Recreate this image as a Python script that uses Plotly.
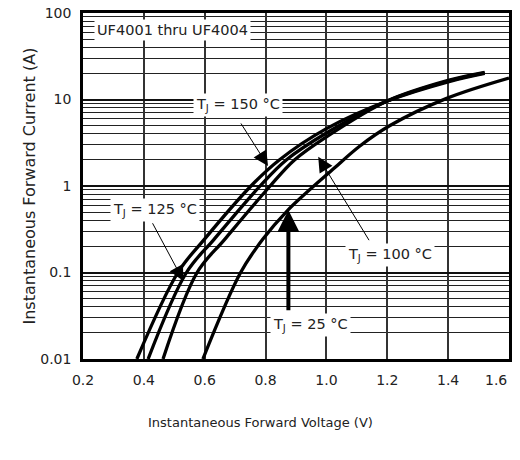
import math
import plotly.graph_objects as go

# Forward characteristics
v_150 = [0.377, 0.512, 0.598, 0.752, 0.845, 1.000, 1.200, 1.400, 1.520]
i_150 = [0.01, 0.1, 0.24, 1.0, 2.0, 4.6, 9.6, 16.0, 20.0]

v_125 = [0.414, 0.540, 0.630, 0.782, 0.868, 1.000, 1.200, 1.400, 1.520]
i_125 = [0.01, 0.1, 0.24, 1.0, 2.0, 4.1, 9.6, 16.3, 20.3]

v_100 = [0.463, 0.575, 0.665, 0.815, 0.895, 1.000, 1.200, 1.400, 1.520]
i_100 = [0.01, 0.1, 0.24, 1.0, 2.0, 3.7, 9.6, 16.6, 20.6]

v_25 = [0.594, 0.718, 0.790, 0.872, 1.025, 1.110, 1.209, 1.395, 1.600]
i_25 = [0.01, 0.1, 0.24, 0.52, 1.6, 2.9, 5.0, 10.3, 17.7]

x_ticks = [0.2, 0.4, 0.6, 0.8, 1.0, 1.2, 1.4, 1.6]
x_tick_text = ["0.2", "0.4", "0.6", "0.8", "1.0", "1.2", "1.4", ""]
last_x_label = "1.6"
y_ticks = [0.01, 0.1, 1, 10, 100]
y_tick_text = ["0.01", "0.1", "1", "10", "100"]
y_minor = [m * d for d in (0.01, 0.1, 1, 10) for m in range(2, 10)]

FONT = "DejaVu Sans"
fig = go.Figure()
for v, i in [(v_150, i_150), (v_125, i_125), (v_100, i_100), (v_25, i_25)]:
    fig.add_trace(go.Scatter(x=v, y=i, mode="lines",
                             line=dict(color="black", width=3.3, shape="spline", smoothing=1.0),
                             showlegend=False, hoverinfo="skip"))

fig.update_layout(
    width=520, height=444,
    margin=dict(l=75, r=19, t=5, b=93),
    paper_bgcolor="white", plot_bgcolor="white",
    font=dict(family=FONT, size=14, color="#222"),
    xaxis=dict(range=[0.2, 1.6], tickvals=x_ticks, ticktext=x_tick_text,
               showgrid=True, gridcolor="#333", gridwidth=1.5,
               showline=True, linecolor="black", linewidth=2.5, mirror=True,
               ticks="", zeroline=False, automargin=False, ticklabeloverflow="allow",
               ticklabelstandoff=6),
    yaxis=dict(type="log", range=[-2, 2], tickvals=y_ticks, ticktext=y_tick_text,
               showgrid=True, gridcolor="#111", gridwidth=2,
               minor=dict(showgrid=True, tickvals=y_minor, gridcolor="#222", gridwidth=1, ticks=""),
               showline=True, linecolor="black", linewidth=2.5, mirror=True,
               ticks="", zeroline=False, automargin=False, ticklabeloverflow="allow",
               ticklabelstandoff=6),
)

# last x tick label kept inside the visible page
fig.add_annotation(xref="paper", yref="paper", x=1.0, y=-0.0607, xanchor="right",
                   yanchor="middle", text=last_x_label, showarrow=False,
                   font=dict(family=FONT, size=14, color="#222"))

# axis titles
fig.add_annotation(xref="paper", yref="paper", x=0.4155, y=-0.211,
                   text="Instantaneous Forward Voltage (V)", showarrow=False,
                   font=dict(family=FONT, size=13, color="#222"))
fig.add_annotation(xref="paper", yref="paper", x=-0.1526, y=0.5, textangle=-90,
                   text="Instantaneous Forward Current (A)", showarrow=False,
                   font=dict(family=FONT, size=16, color="#222"))

lab_font = dict(family=FONT, size=14.5, color="#222")
labels = [
    ("UF4001 thru UF4004", 0.4925, 63.5),
    ("T<sub>J</sub> = 150 °C", 0.708, 8.6),
    ("T<sub>J</sub> = 125 °C", 0.435, 0.528),
    ("T<sub>J</sub> = 100 °C", 1.2105, 0.159),
    ("T<sub>J</sub> = 25 °C", 0.949, 0.0247),
]
for txt, x, y in labels:
    fig.add_annotation(x=x, y=math.log10(y), text=txt, showarrow=False, font=lab_font,
                       bgcolor="white", borderpad=2)

# arrows: (tail_x, tail_y, tip_x, tip_y, width, size)
arrows = [
    (0.716, 5.5, 0.808, 1.70, 1, 3.0),
    (0.426, 0.386, 0.530, 0.080, 1, 3.0),
    (1.143, 0.227, 0.973, 2.18, 1, 3.0),
    (0.875, 0.0352, 0.875, 0.528, 4, 1.1),
]
for tx, ty, hx, hy, w, s in arrows:
    fig.add_annotation(x=hx, y=math.log10(hy), ax=tx, ay=math.log10(ty),
                       xref="x", yref="y", axref="x", ayref="y",
                       text="", showarrow=True, arrowhead=2, arrowwidth=w,
                       arrowsize=s, arrowcolor="black", standoff=0)

fig.write_html("out.html")
